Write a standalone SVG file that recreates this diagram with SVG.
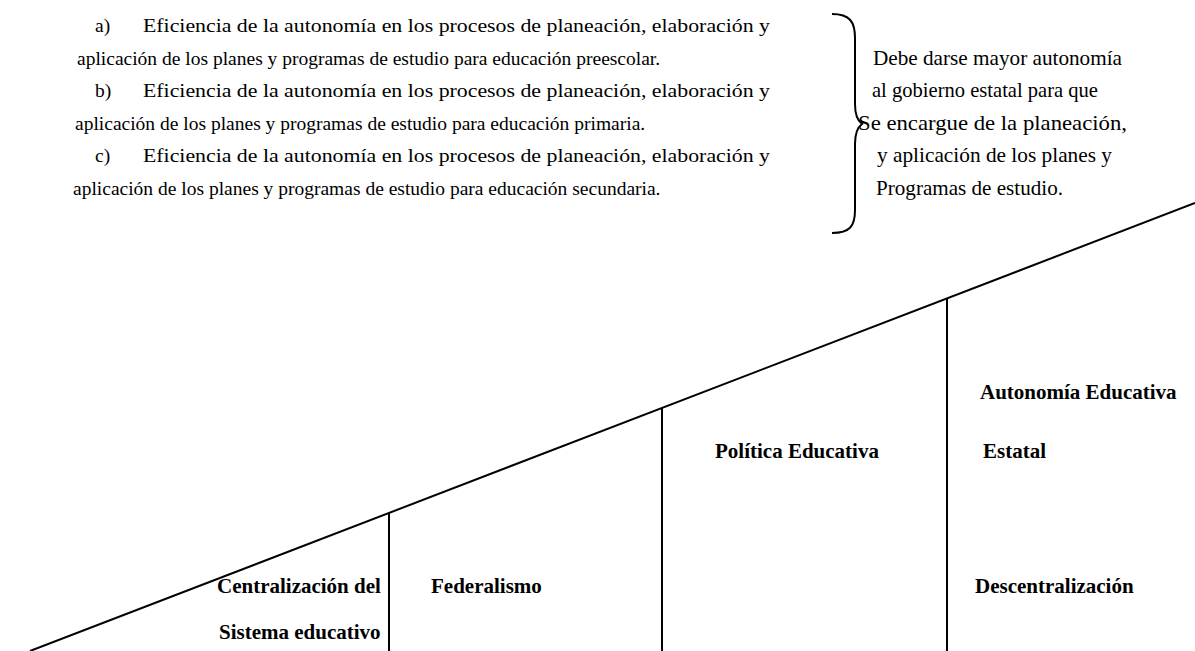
<svg xmlns="http://www.w3.org/2000/svg" width="1195" height="651" viewBox="0 0 1195 651">
<style>
.t{font-family:"Liberation Serif","Times New Roman",serif;font-size:19.5px;fill:#000}
.r{font-family:"Liberation Serif","Times New Roman",serif;font-size:21px;fill:#000}
.b{font-family:"Liberation Serif","Times New Roman",serif;font-size:21px;font-weight:bold;fill:#000}
.ln{stroke:#000;stroke-width:2;fill:none}
</style>
<defs>
<linearGradient id="g" x1="0" y1="0" x2="1" y2="0">
<stop offset="0" stop-color="#fff"/>
<stop offset="1" stop-color="#666"/>
</linearGradient>
</defs>
<rect width="1195" height="651" fill="#fff"/>
<g id="list">
<text class="t" x="95" y="32">a)</text>
<text class="t" x="143" y="32" textLength="627" lengthAdjust="spacingAndGlyphs">Eficiencia de la autonomía en los procesos de planeación, elaboración y</text>
<text class="t" x="77" y="64.5">aplicación de los planes y programas de estudio para educación preescolar.</text>
<text class="t" x="95" y="97">b)</text>
<text class="t" x="143" y="97" textLength="627" lengthAdjust="spacingAndGlyphs">Eficiencia de la autonomía en los procesos de planeación, elaboración y</text>
<text class="t" x="75" y="129.5">aplicación de los planes y programas de estudio para educación primaria.</text>
<text class="t" x="95" y="162">c)</text>
<text class="t" x="143" y="162" textLength="627" lengthAdjust="spacingAndGlyphs">Eficiencia de la autonomía en los procesos de planeación, elaboración y</text>
<text class="t" x="73" y="194.5">aplicación de los planes y programas de estudio para educación secundaria.</text>
</g>
<g id="brace">
<path class="ln" d="M832,14 C850,14 855,22 855,38 L855,104 C855,116 858,121 862,124 C858,127 855,132 855,144 L855,210 C855,226 850,233 832,233"/>
</g>
<g id="note">
<text class="r" x="873" y="64.5" textLength="249" lengthAdjust="spacingAndGlyphs">Debe darse mayor autonomía</text>
<text class="r" x="872" y="97" textLength="226" lengthAdjust="spacingAndGlyphs">al gobierno estatal para que</text>
<text class="r" x="858" y="129.5" textLength="269" lengthAdjust="spacingAndGlyphs">Se encargue de la planeación,</text>
<text class="r" x="877" y="162" textLength="235" lengthAdjust="spacingAndGlyphs">y aplicación de los planes y</text>
<text class="r" x="876" y="194.5" textLength="187" lengthAdjust="spacingAndGlyphs">Programas de estudio.</text>
</g>
<g id="connectors">
<line class="ln" x1="30" y1="651" x2="1195" y2="203"/>
<line class="ln" x1="389" y1="513" x2="389" y2="651"/>
<line class="ln" x1="662" y1="408" x2="662" y2="651"/>
<line class="ln" x1="947" y1="298" x2="947" y2="651"/>
<line x1="1105" y1="649.5" x2="1195" y2="649.5" stroke="url(#g)" stroke-width="2"/>
</g>
<g id="centralizacion">
<text class="b" x="217" y="593">Centralización del</text>
<text class="b" x="219" y="639">Sistema educativo</text>
</g>
<g id="federalismo"><text class="b" x="431" y="593">Federalismo</text></g>
<g id="politica"><text class="b" x="715" y="458">Política Educativa</text></g>
<g id="autonomia">
<text class="b" x="980" y="399">Autonomía Educativa</text>
<text class="b" x="983" y="458">Estatal</text>
</g>
<g id="descentralizacion"><text class="b" x="975" y="593">Descentralización</text></g>
</svg>
